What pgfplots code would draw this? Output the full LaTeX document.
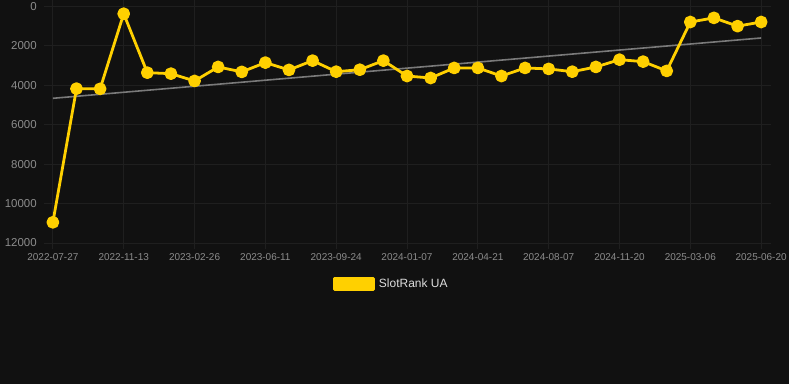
\documentclass[border=0pt]{standalone}
\usepackage{pgfplots}
\pgfplotsset{compat=1.18}
\usepackage{fontspec}
\setmainfont{Liberation Sans}
\definecolor{bg}{HTML}{111111}
\definecolor{gridc}{HTML}{1F1F1F}
\definecolor{tickc}{HTML}{8C8C8C}
\definecolor{yel}{HTML}{FFD000}
\definecolor{trend}{HTML}{7A7A7A}
\definecolor{legc}{HTML}{DDDDDD}
\begin{document}
\begin{tikzpicture}[x=1pt,y=1pt]
\fill[bg] (0,0) rectangle (790,384);
\begin{axis}[
  at={(44pt,141pt)}, anchor=south west,
  scale only axis, width=728pt, height=237pt,
  xmin=-0.38, xmax=30.4,
  ymin=0, ymax=12000, y dir=reverse,
  ytick={0,2000,...,12000},
  xtick={0,3,...,30},
  xticklabels={2022-07-27,2022-11-13,2023-02-26,2023-06-11,2023-09-24,2024-01-07,2024-04-21,2024-08-07,2024-11-20,2025-03-06,2025-06-20},
  scaled y ticks=false,
  /pgf/number format/assume math mode=true,
  /pgf/number format/1000 sep={},
  axis line style={draw=none},
  grid=major, major grid style={gridc, line width=0.9pt},
  xtick style={draw=gridc, line width=0.9pt},
  ytick style={draw=none},
  tick align=outside, major tick length=6pt,
  yticklabel style={font=\fontsize{11.5}{13}\selectfont, text=tickc, inner sep=1pt},
  xticklabel style={font=\fontsize{10}{12}\selectfont, text=tickc, yshift=-1pt},
  legend style={at={(0.4795,-0.173)}, anchor=center, draw=none, fill=none,
    font=\fontsize{12}{14}\selectfont, text=legc,
    nodes={inner xsep=4pt}},
  legend cell align=left,
]
\addplot[trend, line width=1.6pt, forget plot] coordinates {(0,4660) (30,1600)};
\addplot[yel, line width=2.8pt, line join=round, mark=*, mark size=5pt, mark options={solid, fill=yel, draw=none},
  legend image code/.code={\fill[yel] (-0.1pt,-5.5pt) rectangle (39pt,5.5pt);}]
coordinates {
(0,10950) (1,4170) (2,4180) (3,370) (4,3360) (5,3410) (6,3780) (7,3070) (8,3320) (9,2850)
(10,3220) (11,2750) (12,3310) (13,3210) (14,2750) (15,3530) (16,3630) (17,3120) (18,3120) (19,3530)
(20,3120) (21,3170) (22,3310) (23,3070) (24,2700) (25,2800) (26,3270) (27,790) (28,580) (29,1000) (30,790)
};
\addlegendentry{SlotRank UA}
\end{axis}
\end{tikzpicture}
\end{document}
